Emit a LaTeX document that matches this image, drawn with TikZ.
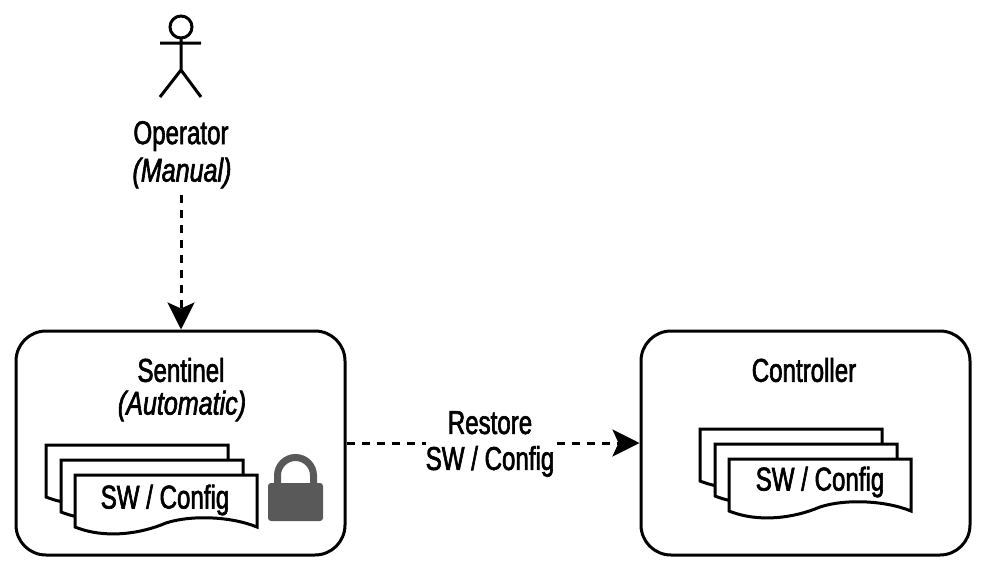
\documentclass[tikz,border=0pt]{standalone}
\usepackage{fontspec}
\setmainfont[FakeStretch=0.73,FakeBold=1.9,ItalicFeatures={FakeStretch=0.76}]{Liberation Sans}
\usetikzlibrary{arrows.meta}
\definecolor{lockgray}{HTML}{595959}
\tikzset{
  x=1pt,y=-1pt,
  outline/.style={draw=black,line width=3pt,line join=miter},
  panel/.style={outline,rounded corners=30pt,fill=white,minimum width=329pt,minimum height=224pt,inner sep=0pt,anchor=center},
  txt/.style={inner sep=0pt,outer sep=0pt,font=\fontsize{33pt}{36pt}\selectfont,align=center,text=black,anchor=center},
  dashline/.style={draw=black,line width=3pt,dash pattern=on 8pt off 7pt,-{Stealth[length=27pt,width=27pt,inset=6pt]}},
  pagesheet/.style={outline,fill=white}
}
\newcommand{\sheet}[2]{% left x, top y of a 182 x 52 page
  \begin{scope}[shift={(#1,#2)}]
  \path[pagesheet] (0,0) -- (182,0) -- (182,52)
    .. controls (155,41) and (115,40) .. (91,48)
    .. controls (65,59) and (30,64) .. (0,52) -- cycle;
  \end{scope}
}
\begin{document}
\begin{tikzpicture}
\useasboundingbox (0,0) rectangle (990,573);
% actor
\draw[line width=3pt] (181,27) circle (11);
\draw[line width=3pt] (181,38) -- (181,70) (160,43) -- (201,43) (160,97) -- (181,70) -- (201,97);
\node[txt] (operator) at (181,136) {Operator};
\node[txt] (manual) at (182,173) {\itshape (Manual)};
\coordinate (manualfoot) at (181,195);
% panels
\node[panel] (sentinel) at (180.5,443) {};
\node[panel] (controller) at (805.5,443) {};
\node[txt] (sentineltitle) at (181,370) {Sentinel};
\node[txt] (automatic) at (182,406) {\itshape (Automatic)};
\node[txt] (controllertitle) at (804,370) {Controller};
% connectors
\draw[dashline] (manualfoot) -- (sentinel.north -| manualfoot);
\draw[dashline] (sentinel.east) -- (controller.west);
\node[txt,fill=white] (restore) at (490,444) {Restore\\SW / Config};
% sentinel pages
\sheet{46}{445}
\sheet{61}{460}
\sheet{75}{475}
\node[txt] (sentinelpage) at (165,500) {SW / Config};
% controller pages
\sheet{700}{429}
\sheet{715}{444}
\sheet{729}{459}
\node[txt] (controllerpage) at (820,482) {SW / Config};
% lock
\fill[lockgray,rounded corners=3pt] (268,483) rectangle (323,521);
\draw[lockgray,line width=7pt] (277.5,485) -- (277.5,475.5) arc[start angle=180,end angle=360,radius=18] -- (313.5,485);
\end{tikzpicture}
\end{document}
